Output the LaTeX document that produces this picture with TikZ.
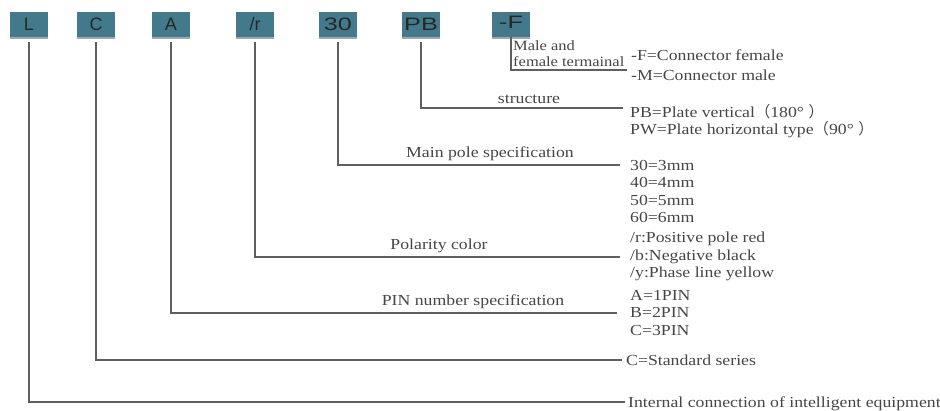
\documentclass[tikz,border=0pt]{standalone}
\usepackage{fontspec}
\setmainfont{Liberation Serif}[FakeStretch=1.16]
\newfontfamily\codefont{Liberation Sans}
\newfontfamily\widecode{Liberation Sans}[FakeStretch=1.4]
\newfontfamily\cjk{Noto Sans CJK SC}
\usetikzlibrary{positioning}

\definecolor{codeteal}{RGB}{66,122,140}
\definecolor{leadgray}{RGB}{95,95,95}
\definecolor{notegray}{RGB}{70,70,70}

\tikzset{
  codebox/.style={fill=codeteal, text=black!85, minimum width=38pt, minimum height=25pt,
    inner sep=0pt, font=\codefont\fontsize{18}{18}\selectfont},
  bigcode/.style={codebox, font=\widecode\fontsize{18}{18}\selectfont},
  boxshade/.style={draw=black!35, line width=1.5pt},
  lead/.style={draw=leadgray, line width=1.1pt},
  note/.style={inner sep=0pt, text=notegray, align=left, font=\fontsize{15.3}{17.5}\selectfont},
}

\begin{document}
\begin{tikzpicture}[x=1pt,y=-1pt]
  \useasboundingbox (0,0) rectangle (940,410);

  % code letters
  \node[codebox] (bL) at (29,24.5) {L};
  \node[codebox] (bC) at (96,24.5) {C};
  \node[codebox] (bA) at (171,24.5) {A};
  \node[codebox] (bR) at (255,24.5) {/r};
  \node[bigcode] (b30) at (338,24.5) {30};
  \node[bigcode] (bPB) at (421,24.5) {PB};
  \node[bigcode] (bF) at (511,24.5) {\raisebox{4pt}{-F}};

  % grey edge under each box
  \foreach \b in {bL,bC,bA,bR,b30,bPB,bF}
    \draw[boxshade] ([yshift=-0.8pt]\b.south west) -- ([yshift=-0.8pt]\b.south east);

  % ends of the leader lines
  \coordinate (eF) at (627,70);
  \coordinate (ePB) at (623,108);
  \coordinate (e30) at (620,165);
  \coordinate (eR) at (620,257);
  \coordinate (eA) at (617,313);
  \coordinate (eC) at (622,360);
  \coordinate (eL) at (625,402);

  % leader lines
  \draw[lead] (bF.south) |- (eF);
  \draw[lead] ([yshift=-5pt]bPB.south) |- (ePB);
  \draw[lead] ([yshift=-5pt]b30.south) |- (e30);
  \draw[lead] ([yshift=-5pt]bR.south) |- (eR);
  \draw[lead] ([yshift=-5pt]bA.south) |- (eA);
  \draw[lead] ([yshift=-5pt]bC.south) |- (eC);
  \draw[lead] ([yshift=-5pt]bL.south) |- (eL);

  % what each part means
  \node[note, anchor=north west, font=\fontsize{14.2}{16.5}\selectfont] (tF) at (513,40) {Male and\\female termainal};
  \node[note] (tPB) at (529,99) {structure};
  \node[note] (t30) at (490,154) {Main pole specification};
  \node[note] (tR) at (439,246) {Polarity color};
  \node[note] (tA) at (473,302) {PIN number specification};

  % the options
  \node[note, anchor=north west] (nF) at (631,50) {-F=Connector female\\[2pt]-M=Connector male};
  \node[note, anchor=north west] (nPB) at (630,104)
    {PB=Plate vertical{\cjk （}180° {\cjk ）}\\PW=Plate horizontal type{\cjk （}90° {\cjk ）}};
  \node[note, anchor=north west] (n30) at (630,160) {30=3mm\\40=4mm\\50=5mm\\60=6mm};
  \node[note, anchor=north west] (nR) at (630,232) {/r:Positive pole red\\/b:Negative black\\/y:Phase line yellow};
  \node[note, anchor=north west] (nA) at (630,290) {A=1PIN\\B=2PIN\\C=3PIN};
  \node[note, anchor=west] (nC) at (626,360) {C=Standard series};
  \node[note, anchor=base west] (nL) at (628,407) {Internal connection of intelligent equipment};
\end{tikzpicture}
\end{document}
